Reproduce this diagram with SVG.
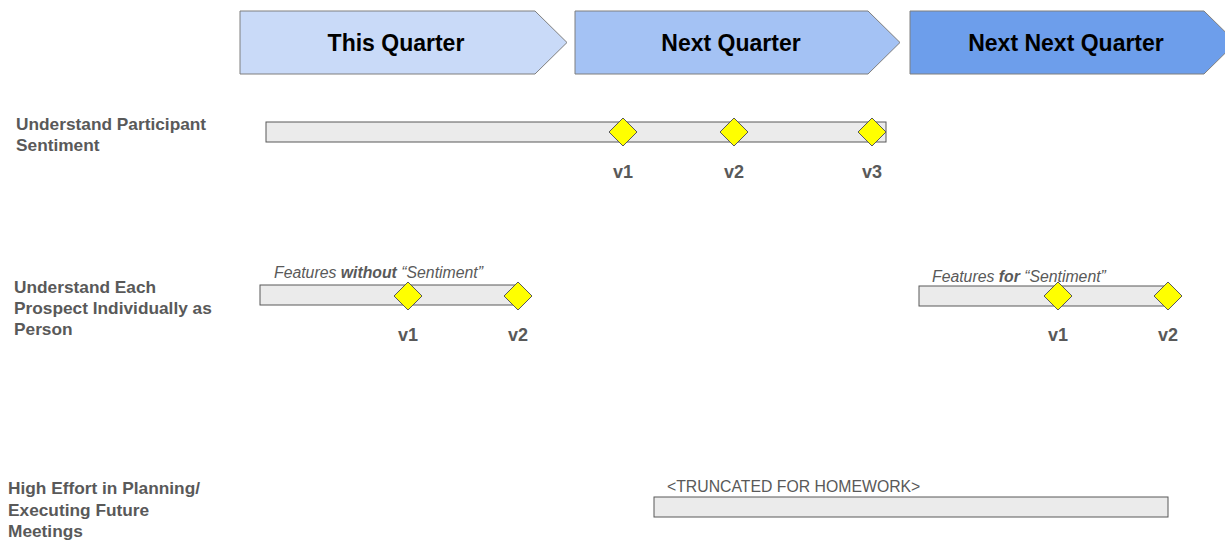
<svg xmlns="http://www.w3.org/2000/svg" width="1225" height="540" viewBox="0 0 1225 540">
<style>
.chev{stroke:#7f7f7f;stroke-width:1}
.ct{font-family:"Liberation Sans",Arial,sans-serif;font-weight:bold;font-size:23px;fill:#000;text-anchor:middle}
.lbl{font-family:"Liberation Sans",Arial,sans-serif;font-weight:bold;font-size:17.3px;fill:#595959}
.bar{fill:#ebebeb;stroke:#595959;stroke-width:1}
.dia{fill:#ffff00;stroke:#595959;stroke-width:1}
.v{font-family:"Liberation Sans",Arial,sans-serif;font-weight:bold;font-size:18px;fill:#595959;text-anchor:middle}
.note{font-family:"Liberation Sans",Arial,sans-serif;font-size:15.8px;fill:#595959}
.it{font-style:italic}
</style>
<defs>
<path id="d" d="M0,-14 L14,0 L0,14 L-14,0 Z"/>
</defs>
<g id="chevron-this-quarter">
<path class="chev" fill="#c9daf8" d="M240,11 H535 L567,42.5 L535,74 H240 Z"/>
<text class="ct" x="396" y="51">This Quarter</text>
</g>
<g id="chevron-next-quarter">
<path class="chev" fill="#a4c2f4" d="M575,11 H868 L900,42.5 L868,74 H575 Z"/>
<text class="ct" x="731" y="51">Next Quarter</text>
</g>
<g id="chevron-next-next-quarter">
<path class="chev" fill="#6d9eeb" d="M910,11 H1204 L1236,42.5 L1204,74 H910 Z"/>
<text class="ct" x="1066" y="51">Next Next Quarter</text>
</g>
<g id="row1">
<text class="lbl" x="16" y="130">Understand Participant</text>
<text class="lbl" x="16" y="151">Sentiment</text>
<rect class="bar" x="266" y="122" width="620" height="20"/>
<use href="#d" class="dia" x="623" y="132"/>
<use href="#d" class="dia" x="734" y="132"/>
<use href="#d" class="dia" x="872" y="132"/>
<text class="v" x="623" y="178">v1</text>
<text class="v" x="734" y="178">v2</text>
<text class="v" x="872" y="178">v3</text>
</g>
<g id="row2">
<text class="lbl" x="14" y="293">Understand Each</text>
<text class="lbl" x="14" y="314">Prospect Individually as</text>
<text class="lbl" x="14" y="335">Person</text>
<text class="note it" x="274" y="278">Features <tspan font-weight="bold">without</tspan> “Sentiment”</text>
<rect class="bar" x="260" y="285" width="260" height="20"/>
<use href="#d" class="dia" x="408" y="296"/>
<use href="#d" class="dia" x="518" y="296"/>
<text class="v" x="408" y="341">v1</text>
<text class="v" x="518" y="341">v2</text>
<text class="note it" x="932" y="282">Features <tspan font-weight="bold">for</tspan> “Sentiment”</text>
<rect class="bar" x="919" y="286" width="246" height="20"/>
<use href="#d" class="dia" x="1058" y="296"/>
<use href="#d" class="dia" x="1168" y="296"/>
<text class="v" x="1058" y="341">v1</text>
<text class="v" x="1168" y="341">v2</text>
</g>
<g id="row3">
<text class="lbl" x="8" y="494">High Effort in Planning/</text>
<text class="lbl" x="8" y="516">Executing Future</text>
<text class="lbl" x="8" y="537">Meetings</text>
<text class="note" x="667" y="492">&lt;TRUNCATED FOR HOMEWORK&gt;</text>
<rect class="bar" x="654" y="497" width="514" height="20"/>
</g>
<g id="connectors"/>
</svg>
